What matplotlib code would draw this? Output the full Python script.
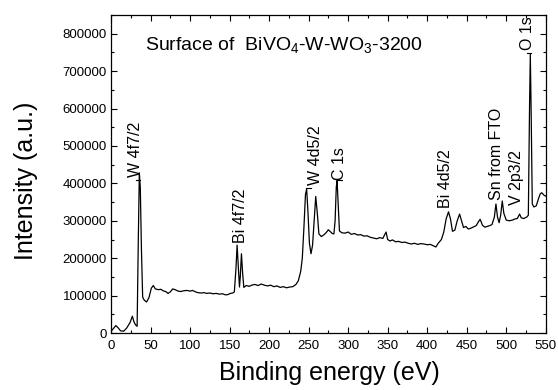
import matplotlib
matplotlib.use("Agg")
import matplotlib.pyplot as plt
from matplotlib.ticker import MultipleLocator

plt.rcParams['font.family'] = ['Liberation Sans', 'DejaVu Sans']
plt.rcParams['mathtext.default'] = 'regular'

# XPS survey spectrum
energy = [0, 3, 6, 9, 12, 16, 20, 24, 27, 29, 31, 33, 34.5, 35.8, 37, 38.5, 40,
          42, 45, 48, 51, 53.5, 56, 60, 63, 66, 70, 72, 75, 78, 81, 85, 88, 92,
          96, 100, 103, 107, 110, 114, 118, 121, 125, 129, 133, 137, 141, 145,
          148, 151, 154, 156, 158, 159.5, 161, 162.5, 163.5, 165, 166.5, 168,
          171, 175, 178, 182, 186, 190, 194, 198, 202, 206, 210, 214, 218, 222,
          226, 230, 234, 237, 240, 242, 244, 246, 247.5, 249, 251, 253, 255, 257,
          259, 261, 263, 266, 269, 272, 275, 277, 280, 282, 283.5, 285, 286,
          287.5, 289, 292, 296, 300, 304, 308, 312, 316, 320, 324, 328, 332, 336,
          340, 344, 346, 348, 350, 353, 356, 360, 364, 368, 372, 376, 380, 384,
          388, 392, 396, 400, 404, 408, 411, 414, 418, 421, 424, 427, 429.5, 432,
          435, 438, 441, 443.5, 446, 449, 452, 455, 458, 462, 465, 467, 470, 473,
          476, 479, 482, 485, 487, 489, 491, 493, 495, 497, 500, 504, 508, 511,
          514, 517, 519, 522, 526, 528, 529.5, 530.5, 531.5, 533, 535, 538, 541,
          543, 545, 548, 550]
intensity = [5000, 12000, 20000, 14000, 6000, 5000, 14000, 28000, 45000, 30000,
             22000, 18000, 250000, 428000, 390000, 220000, 96000,
             88000, 83000, 95000, 120000, 127000, 118000, 116000, 117000, 113000,
             110000, 106000, 110000, 118000, 116000, 112000, 111000, 113000,
             114000, 112000, 114000, 110000, 108000, 107000, 108000, 106000,
             107000, 105000, 106000, 104000, 105000, 102000, 103000, 106000,
             107000, 110000, 170000, 235000, 180000, 123000, 150000, 212000,
             160000, 122000, 127000, 125000, 128000, 130000, 127000, 131000,
             128000, 126000, 128000, 124000, 126000, 122000, 124000, 121000,
             123000, 124000, 130000, 140000, 165000, 200000, 280000, 370000,
             385000, 330000, 240000, 212000, 235000, 300000, 365000, 320000,
             265000, 258000, 262000, 268000, 276000, 272000, 266000, 265000,
             300000, 390000, 408000, 340000, 273000, 268000, 267000, 270000,
             264000, 266000, 262000, 263000, 259000, 260000, 256000, 254000,
             252000, 255000, 253000, 262000, 270000, 250000, 246000, 249000,
             244000, 245000, 242000, 243000, 240000, 238000, 240000, 237000,
             239000, 238000, 236000, 237000, 233000, 230000, 240000, 250000,
             270000, 305000, 324000, 305000, 272000, 275000, 300000, 318000,
             300000, 282000, 285000, 278000, 280000, 283000, 287000, 298000,
             304000, 288000, 283000, 285000, 287000, 290000, 310000, 345000,
             310000, 295000, 315000, 353000, 320000, 302000, 300000, 302000,
             305000, 306000, 318000, 308000, 306000, 310000, 315000, 600000,
             745000, 600000, 345000, 337000, 340000, 360000, 372000, 375000,
             368000, 366000]

# peak labels: text, label x (eV), label bottom (a.u.)
peak_names = ['W 4f7/2', 'Bi 4f7/2', 'W 4d5/2', 'C 1s', 'Bi 4d5/2',
              'Sn from FTO', 'V 2p3/2', 'O 1s']
peak_label_x = [30.5, 164, 258.5, 289.5, 423, 488, 513, 527.5]
peak_label_y = [418000, 240000, 395000, 410000, 333000, 355000, 341000, 756000]
# short leader lines under some labels: x start, x end, level
leader_x0 = [31, 247, 286, 526]
leader_x1 = [37, 253, 292, 531]
leader_y = [410000, 388000, 410000, 748000]

fig = plt.figure(figsize=(5.58, 3.90), dpi=100)
ax = fig.add_axes([0.199, 0.146, 0.779, 0.8155])

ax.plot(energy, intensity, color='black', lw=0.9)

for x0, x1, y in zip(leader_x0, leader_x1, leader_y):
    ax.plot([x0, x1], [y, y], color='black', lw=0.8)

for name, x, y in zip(peak_names, peak_label_x, peak_label_y):
    ax.text(x, y, name, rotation=90, ha='center', va='bottom', fontsize=11.5)

ax.text(0.078, 0.905, 'Surface of  BiVO$_4$-W-WO$_3$-3200', transform=ax.transAxes,
        ha='left', va='center', fontsize=14)

ax.set_xlim(0, 550)
ax.xaxis.set_major_locator(MultipleLocator(50))
ax.xaxis.set_minor_locator(MultipleLocator(25))
ax.yaxis.set_major_locator(MultipleLocator(100000))
ax.yaxis.set_minor_locator(MultipleLocator(50000))
ax.set_yticks(range(0, 900000, 100000))
ax.set_yticklabels([str(v) for v in range(0, 900000, 100000)])
ax.set_ylim(0, 850000)

ax.tick_params(which='both', direction='in', top=True, right=True, labelsize=9.5,
               width=0.8)
ax.tick_params(axis='x', pad=5)
ax.tick_params(axis='y', pad=3)
ax.tick_params(which='major', length=4.5)
ax.tick_params(which='minor', length=2.5)
for s in ax.spines.values():
    s.set_linewidth(0.9)

fig.text(0.591, 0.044, 'Binding energy (eV)', ha='center', va='center', fontsize=18)
fig.text(0.046, 0.536, 'Intensity (a.u.)', ha='center', va='center', rotation=90,
         fontsize=18)

fig.savefig('out.png', dpi=100)
